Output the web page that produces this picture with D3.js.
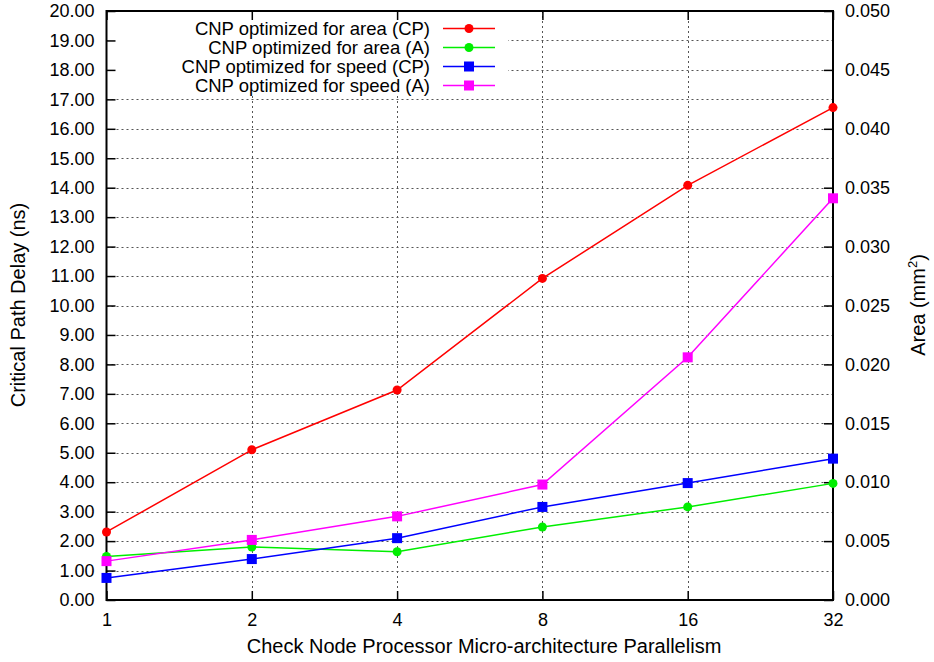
<!DOCTYPE html>
<html><head><meta charset="utf-8">
<script src="https://cdn.jsdelivr.net/npm/d3@7"></script>
<style>body{margin:0;background:#fff}svg{display:block}text{font-family:"Liberation Sans",Arial,sans-serif;fill:#000}</style>
</head><body>
<svg id="c" width="934" height="662"></svg>
<script>
const categories = ["1","2","4","8","16","32"];
const areaCP = [2.31, 5.10, 7.13, 10.92, 14.08, 16.72];        // ns, left axis
const areaA = [0.0037, 0.0045, 0.0041, 0.0062, 0.0079, 0.0099];  // mm2, right axis
const speedCP = [0.75, 1.39, 2.10, 3.16, 3.97, 4.80];          // ns, left axis
const speedA = [0.0033, 0.0051, 0.0071, 0.0098, 0.0206, 0.0341]; // mm2, right axis
const leftTicks = d3.range(0, 21, 1);
const rightTicks = d3.range(0, 0.0501, 0.005);

const series = [
  {name:"CNP optimized for area (CP)", values:areaCP, axis:"L", color:"#ff0000", shape:"circle"},
  {name:"CNP optimized for area (A)", values:areaA, axis:"R", color:"#00ee00", shape:"circle"},
  {name:"CNP optimized for speed (CP)", values:speedCP, axis:"L", color:"#0000ff", shape:"square"},
  {name:"CNP optimized for speed (A)", values:speedA, axis:"R", color:"#ff00ff", shape:"square"}
];

const L = 106.5, R = 833, T = 11, B = 600;
const svg = d3.select("#c");
const x = d3.scalePoint().domain(categories).range([L, R]);
const yL = d3.scaleLinear().domain([0, 20]).range([B, T]);
const yR = d3.scaleLinear().domain([0, 0.05]).range([B, T]);

// grid
const g = svg.append("g");
g.selectAll("line.h").data(leftTicks.slice(1, -1)).join("line")
  .attr("x1", L).attr("x2", R).attr("y1", d => Math.round(yL(d))+0.5).attr("y2", d => Math.round(yL(d))+0.5)
  .attr("stroke", "#555").attr("stroke-width", 1).attr("stroke-dasharray", "2,3");
g.selectAll("line.v").data(categories.slice(1, -1)).join("line")
  .attr("x1", d => Math.round(x(d))+0.5).attr("x2", d => Math.round(x(d))+0.5).attr("y1", T).attr("y2", B)
  .attr("stroke", "#555").attr("stroke-width", 1).attr("stroke-dasharray", "2,3");

// legend background
svg.append("rect").attr("x", L+1).attr("y", T+1).attr("width", 507-L).attr("height", 84).attr("fill", "#fff");

// axes
const fs = "18px";
const axL = svg.append("g").attr("transform", `translate(${L},0)`)
  .call(d3.axisLeft(yL).tickValues(leftTicks).tickFormat(d3.format(".2f")).tickSizeInner(-9).tickSizeOuter(0).tickPadding(12));
const axR = svg.append("g").attr("transform", `translate(${R},0)`)
  .call(d3.axisRight(yR).tickValues(rightTicks).tickFormat(d3.format(".3f")).tickSizeInner(-9).tickSizeOuter(0).tickPadding(12));
const axB = svg.append("g").attr("transform", `translate(0,${B})`)
  .call(d3.axisBottom(x).tickSizeInner(-9).tickSizeOuter(0).tickPadding(13));
const axT = svg.append("g").attr("transform", `translate(0,${T})`)
  .call(d3.axisTop(x).tickSizeInner(-9).tickSizeOuter(0).tickFormat(""));
[axL, axR, axB, axT].forEach(a => {
  a.selectAll("text").style("font-size", fs).style("font-family", '"Liberation Sans",Arial,sans-serif');
  a.selectAll("line").attr("stroke", "#000").attr("stroke-width", 1.5);
  a.select(".domain").remove();
});
svg.append("rect").attr("x", L).attr("y", T).attr("width", R-L).attr("height", B-T)
  .attr("fill", "none").attr("stroke", "#000").attr("stroke-width", 2);

// series
series.forEach(s => {
  const ys = s.axis === "L" ? yL : yR;
  const line = d3.line().x((d,i) => x(categories[i])).y(d => ys(d));
  svg.append("path").datum(s.values).attr("d", line).attr("fill", "none")
    .attr("stroke", s.color).attr("stroke-width", 1.5);
  const pts = svg.append("g");
  s.values.forEach((v,i) => {
    const cx = x(categories[i]), cy = ys(v);
    if (s.shape === "circle") pts.append("circle").attr("cx", cx).attr("cy", cy).attr("r", 4.5).attr("fill", s.color);
    else pts.append("rect").attr("x", cx-5).attr("y", cy-5).attr("width", 10).attr("height", 10).attr("fill", s.color);
  });
});

// legend
series.forEach((s,i) => {
  const yy = 28.5 + i*19;
  svg.append("text").attr("x", 430).attr("y", yy).attr("dy", "0.35em").attr("text-anchor", "end")
    .style("font-size", "18.5px").text(s.name);
  svg.append("line").attr("x1", 443).attr("x2", 495).attr("y1", yy).attr("y2", yy)
    .attr("stroke", s.color).attr("stroke-width", 1.5);
  if (s.shape === "circle") svg.append("circle").attr("cx", 469).attr("cy", yy).attr("r", 4.5).attr("fill", s.color);
  else svg.append("rect").attr("x", 464).attr("y", yy-5).attr("width", 10).attr("height", 10).attr("fill", s.color);
});

// titles
svg.append("text").attr("transform", `translate(25,305) rotate(-90)`).attr("text-anchor", "middle")
  .style("font-size", "20px").text("Critical Path Delay (ns)");
const rt = svg.append("text").attr("transform", `translate(925,305) rotate(-90)`).attr("text-anchor", "middle")
  .style("font-size", "20px");
rt.append("tspan").text("Area (mm");
rt.append("tspan").attr("dy", "-8").style("font-size", "13px").text("2");
rt.append("tspan").attr("dy", "8").text(")");
svg.append("text").attr("x", 484).attr("y", 653).attr("text-anchor", "middle")
  .style("font-size", "20px").text("Check Node Processor Micro-architecture Parallelism");
</script>
</body></html>
